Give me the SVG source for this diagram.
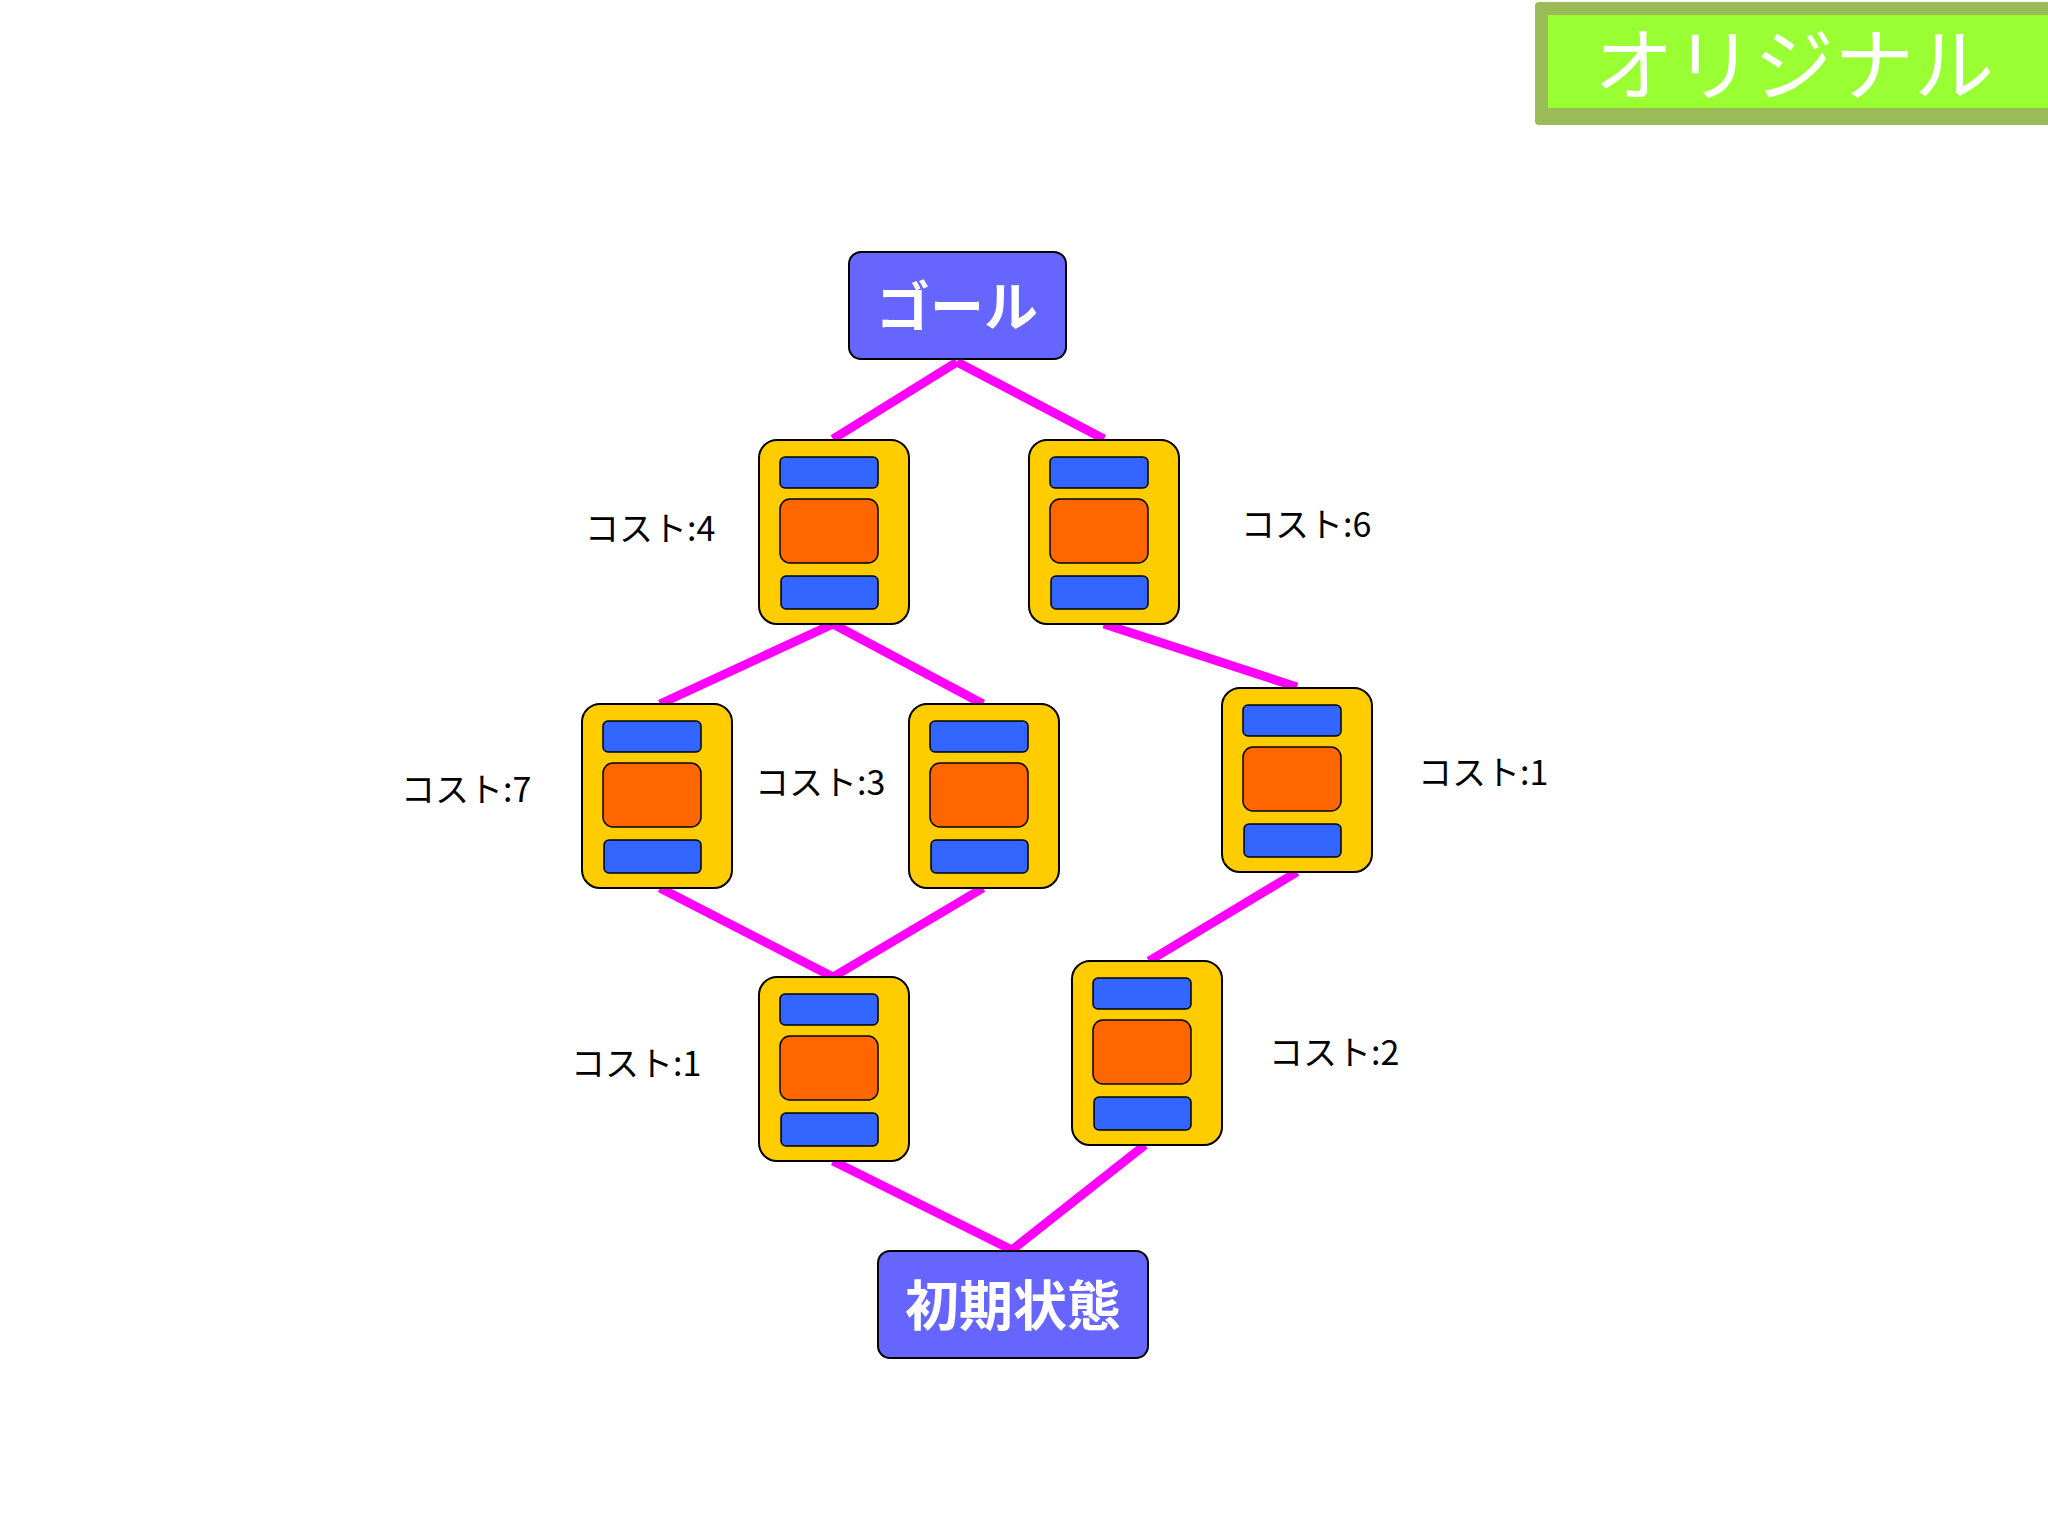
<svg xmlns="http://www.w3.org/2000/svg" width="2048" height="1536" viewBox="0 0 2048 1536">
<style>
.card{fill:#ffcc00;stroke:#000;stroke-width:2}
.bl{fill:#3366ff;stroke:#000;stroke-width:1.5}
.or{fill:#ff6600;stroke:#000;stroke-width:1.5}
.term{fill:#6666ff;stroke:#000;stroke-width:2}
.tt{fill:#fff;font-family:"Noto Sans CJK JP",sans-serif;font-weight:bold;font-size:54px;text-anchor:middle}
.lb{fill:#000;font-family:"Noto Sans CJK JP",sans-serif;font-size:34px}
#edges line{stroke:#ff00ff;stroke-width:9}
</style>
<defs>
<g id="nd">
<rect class="card" x="0" y="0" width="150" height="184" rx="18"/>
<rect class="bl" x="21" y="17" width="98" height="31" rx="5"/>
<rect class="or" x="21" y="59" width="98" height="64" rx="10"/>
<rect class="bl" x="22" y="136" width="97" height="33" rx="5"/>
</g>
</defs>
<rect width="2048" height="1536" fill="#fff"/>
<g id="badge">
<rect x="1535" y="2" width="520" height="123" fill="#9bbb59" rx="4"/>
<rect x="1548" y="15" width="500" height="93" fill="#99ff33"/>
<text x="1794" y="94" fill="#fff" font-family="Noto Sans CJK JP,sans-serif" font-size="80" text-anchor="middle">オリジナル</text>
</g>
<g id="edges">
<line x1="957" y1="362" x2="833" y2="439"/>
<line x1="957" y1="362" x2="1104" y2="439"/>
<line x1="833" y1="624" x2="660" y2="704"/>
<line x1="833" y1="624" x2="983" y2="704"/>
<line x1="1104" y1="624" x2="1297" y2="687"/>
<line x1="660" y1="888" x2="833" y2="977"/>
<line x1="983" y1="888" x2="833" y2="977"/>
<line x1="1297" y1="872" x2="1149" y2="961"/>
<line x1="833" y1="1161" x2="1012" y2="1250"/>
<line x1="1145" y1="1145" x2="1012" y2="1250"/>
</g>
<g id="goal"><rect class="term" x="849" y="252" width="217" height="107" rx="12"/><text class="tt" x="957" y="327">ゴール</text></g>
<g id="start"><rect class="term" x="878" y="1251" width="270" height="107" rx="12"/><text class="tt" x="1013" y="1326">初期状態</text></g>
<g id="n1"><use href="#nd" x="759" y="440"/><text class="lb" x="585" y="541">コスト:4</text></g>
<g id="n2"><use href="#nd" x="1029" y="440"/><text class="lb" x="1241" y="537">コスト:6</text></g>
<g id="n3"><use href="#nd" x="582" y="704"/><text class="lb" x="401" y="802">コスト:7</text></g>
<g id="n4"><use href="#nd" x="909" y="704"/><text class="lb" x="755" y="795">コスト:3</text></g>
<g id="n5"><use href="#nd" x="1222" y="688"/><text class="lb" x="1418" y="785">コスト:1</text></g>
<g id="n6"><use href="#nd" x="759" y="977"/><text class="lb" x="571" y="1076">コスト:1</text></g>
<g id="n7"><use href="#nd" x="1072" y="961"/><text class="lb" x="1269" y="1065">コスト:2</text></g>
</svg>
